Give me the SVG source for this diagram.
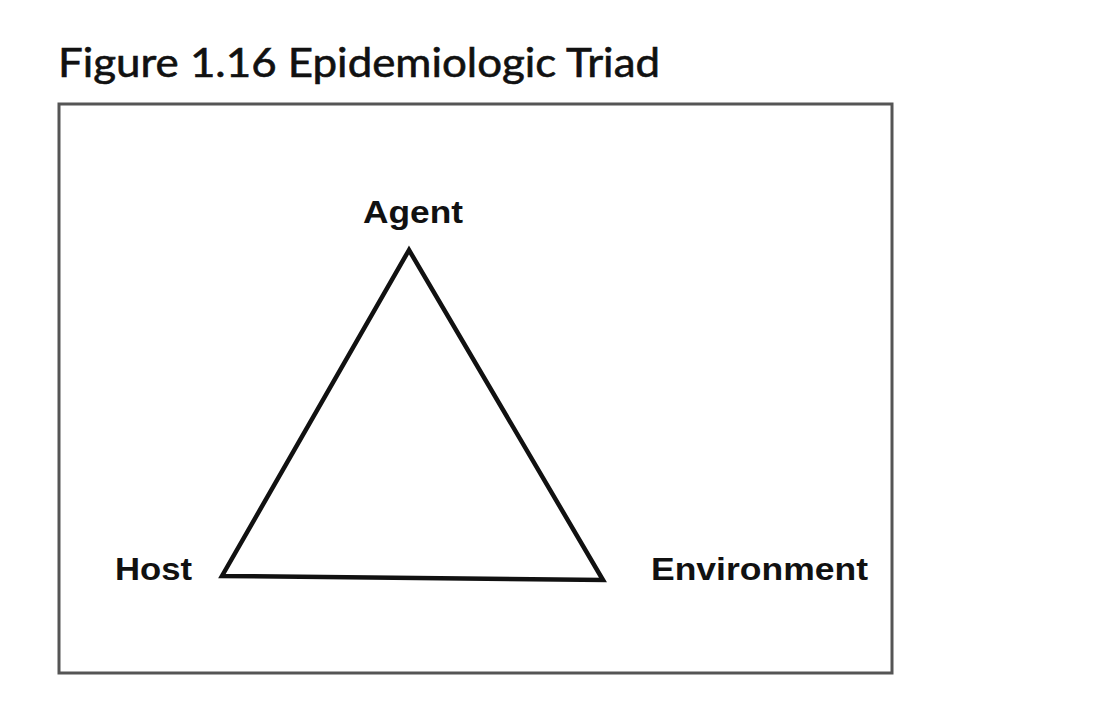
<svg xmlns="http://www.w3.org/2000/svg" width="1120" height="706" viewBox="0 0 1120 706">
<style>
.lbl{font-family:"Liberation Sans",Arial,sans-serif;font-weight:bold;font-size:32px;fill:#111}
.title{font-family:Lato,"Open Sans",sans-serif;font-weight:normal;font-size:40px;fill:#111;stroke:#111;stroke-width:0.6}
</style>
<rect width="1120" height="706" fill="#fff"/>
<text class="title" x="58" y="77" textLength="602" lengthAdjust="spacingAndGlyphs">Figure 1.16 Epidemiologic Triad</text>
<rect x="59" y="104" width="833" height="569" fill="#fff" stroke="#555" stroke-width="3"/>
<g id="connectors">
<polygon points="409,250 222,576 603,580" fill="none" stroke="#111" stroke-width="4.5" stroke-linejoin="miter"/>
</g>
<g id="agent"><text class="lbl" x="413" y="223" text-anchor="middle" textLength="100" lengthAdjust="spacingAndGlyphs">Agent</text></g>
<g id="host"><text class="lbl" x="115" y="580" textLength="77" lengthAdjust="spacingAndGlyphs">Host</text></g>
<g id="environment"><text class="lbl" x="651" y="580" textLength="217" lengthAdjust="spacingAndGlyphs">Environment</text></g>
</svg>
